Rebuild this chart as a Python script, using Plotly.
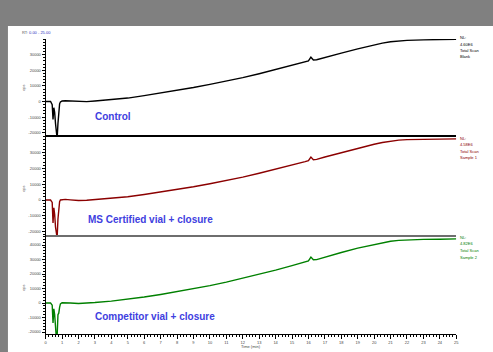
import plotly.graph_objects as go

# Retention time grid (minutes), shared by all three chromatograms
time_min = [0, 0.3, 0.4, 0.45, 0.5, 0.55, 0.6, 0.65, 0.7, 0.75, 0.8, 0.85, 0.9, 1.0,
            1.2, 1.5, 2, 2.5, 3, 4, 5, 6, 7, 8, 9, 10, 11, 12, 13, 14, 15, 15.8,
            16.0, 16.15, 16.3, 16.5, 17, 18, 19, 20, 20.5, 21, 21.5, 22, 23, 24, 25]

control = [0, 0, -2000, -11500, -4000, -7000, -14000, -23000, -24000, -14000, -5000, -1500,
           -300, 300, 500, 400, -200, -100, 300, 1100, 2200, 3800, 5400, 7100, 9000,
           11000, 13100, 15300, 17800, 20500, 23300, 25400, 26000, 28400, 26600, 26800,
           28300, 31000, 33700, 36300, 37400, 38300, 38900, 39200, 39500, 39700, 39900]

ms_certified = [0, 0, -1500, -14500, -5000, -9000, -17000, -24000, -24000, -12000, -4000,
                -1000, 0, 300, 400, 100, -300, -200, 200, 1000, 2100, 3500, 5000, 6600,
                8400, 10300, 12300, 14500, 16900, 19400, 22100, 24300, 24900, 27200,
                25500, 25700, 27200, 30000, 32800, 35300, 36400, 37300, 37900, 38200,
                38400, 38500, 38700]

competitor = [0, 0, -1500, -13800, -4000, -8000, -16000, -24000, -23000, -8000, -7000, -3000,
              -600, 200, 300, 0, -300, -200, 300, 1300, 2600, 4100, 5900, 7800, 9800,
              12000, 14400, 17000, 19800, 22700, 25800, 28400, 29000, 31700, 29800,
              29900, 31600, 34800, 37800, 40400, 41600, 42600, 43200, 43600, 43900,
              44000, 44200]

series_names = ["Control", "MS Certified vial + closure", "Competitor vial + closure"]
series_colors = ["#000000", "#8b0000", "#008000"]
side_labels = [["NL:", "4.60E6", "Total Scan", "Blank"],
               ["NL:", "4.58E6", "Total Scan", "Sample 1"],
               ["NL:", "4.82E6", "Total Scan", "Sample 2"]]

x_ticks = list(range(0, 26))
y_ticks_short = [-20000, -10000, 0, 10000, 20000, 30000]
y_ticks_full = [-20000, -10000, 0, 10000, 20000, 30000, 40000]

W, H = 493, 352


def fx(px):
    return px / W


def fy(py):
    return 1 - py / H


# panel geometry in pixels: (top, bottom, y-range, tick values)
panels = [
    (39, 135, [-21474, 40064], y_ticks_short),
    (135, 235, [-22152, 41139], y_ticks_short),
    (235, 334, [-21379, 46897], y_ticks_full),
]
x_dom = [fx(45), fx(459)]

fig = go.Figure()
series = [control, ms_certified, competitor]
for i, (vals, color) in enumerate(zip(series, series_colors)):
    n = i + 1
    fig.add_trace(go.Scatter(
        x=time_min, y=vals, mode="lines",
        line=dict(color=color, width=1.4),
        xaxis="x" if n == 1 else f"x{n}",
        yaxis="y" if n == 1 else f"y{n}",
        showlegend=False, hoverinfo="skip"))

layout = dict(
    width=W, height=H,
    margin=dict(l=0, r=0, t=0, b=0),
    paper_bgcolor="#808080",
    plot_bgcolor="rgba(0,0,0,0)",
    font=dict(family="Liberation Sans, Arial, sans-serif"),
    showlegend=False,
)

bottom_line_colors = ["#000000", "#6e6e6e", "#000000"]
bottom_line_widths = [1.5, 2, 1.2]

for i, (top, bot, yr, yt) in enumerate(panels):
    n = i + 1
    xk = "xaxis" if n == 1 else f"xaxis{n}"
    yk = "yaxis" if n == 1 else f"yaxis{n}"
    ya = "y" if n == 1 else f"y{n}"
    xa = "x" if n == 1 else f"x{n}"
    last = (n == 3)
    xax = dict(
        domain=x_dom, anchor=ya, range=[0, 25],
        showgrid=False, zeroline=False,
        showline=True, linecolor=bottom_line_colors[i], linewidth=bottom_line_widths[i],
        tickvals=x_ticks if last else [],
        ticktext=[str(t) for t in x_ticks] if last else [],
        ticks="outside" if last else "", ticklen=4, tickcolor="#000", tickwidth=1,
        showticklabels=last,
        tickfont=dict(size=4, color="#444"),
    )
    if last:
        xax["minor"] = dict(dtick=0.2, ticks="outside", ticklen=2, tickcolor="#000")
    layout[xk] = xax
    layout[yk] = dict(
        domain=[fy(bot), fy(top)], anchor=xa, range=yr,
        showgrid=False, zeroline=False,
        showline=True, linecolor="#000", linewidth=1,
        tickvals=yt, ticktext=[str(v) for v in yt],
        ticks="outside", ticklen=3, tickcolor="#000", tickwidth=1,
        minor=dict(dtick=2000, ticks="outside", ticklen=2, tickcolor="#000"),
        tickfont=dict(size=4, color="#444"),
    )

fig.update_layout(**layout)

# white page area inside the grey frame
fig.add_shape(type="rect", xref="paper", yref="paper",
              x0=fx(7), x1=1.01, y0=-0.01, y1=fy(26),
              fillcolor="white", line=dict(width=0), layer="below")

ann = []
# series captions
caption_pos = [(93, 116), (86, 219), (93, 316)]
for name, (px, py) in zip(series_names, caption_pos):
    ann.append(dict(x=fx(px), y=fy(py), xref="paper", yref="paper", text=f"<b>{name}</b>",
                    showarrow=False, xanchor="left", yanchor="middle",
                    font=dict(size=10, color="#4040e0", family="Liberation Sans, Arial")))

# scan info at right of each trace
side_y = [[37, 44, 50, 57], [138, 144, 151, 157], [237, 243, 250, 257]]
for labels, ys, color in zip(side_labels, side_y, series_colors):
    for txt, py in zip(labels, ys):
        ann.append(dict(x=fx(461), y=fy(py), xref="paper", yref="paper", text=txt,
                        showarrow=False, xanchor="left", yanchor="middle",
                        font=dict(size=4, color=color)))

# y-axis titles
for py in [88, 189, 288]:
    ann.append(dict(x=fx(22), y=fy(py), xref="paper", yref="paper", text="cps",
                    showarrow=False, textangle=-90, xanchor="center", yanchor="middle",
                    font=dict(size=4, color="#444")))

# x-axis title
ann.append(dict(x=fx(252), y=fy(346), xref="paper", yref="paper", text="Time (min)",
                showarrow=False, xanchor="center", yanchor="middle",
                font=dict(size=4, color="#444")))

# retention-time window
ann.append(dict(x=fx(19), y=fy(32), xref="paper", yref="paper",
                text="RT: <span style='color:#3030c0'>0.00 - 25.00</span>",
                showarrow=False, xanchor="left", yanchor="middle",
                font=dict(size=4, color="#555")))

fig.update_layout(annotations=ann)
fig.write_html("out.html")
